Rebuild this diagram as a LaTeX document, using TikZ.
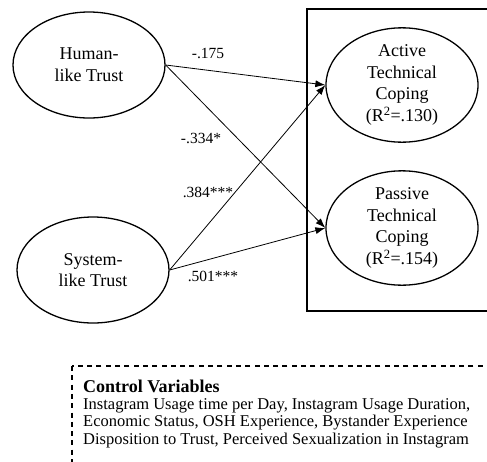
\documentclass[tikz,border=0pt]{standalone}
\usepackage{fontspec}
\setmainfont{Liberation Serif}
\usetikzlibrary{arrows.meta,shapes.geometric}
\begin{document}
\begin{tikzpicture}[x=1pt,y=-1pt,
  latent/.style={draw, ellipse, line width=1.3pt, minimum width=152pt,
    minimum height=106pt, inner sep=0pt, align=center,
    font=\fontsize{18}{21.7}\selectfont},
  pathedge/.style={-{Latex[length=10pt,width=7pt]}, line width=0.8pt},
  coef/.style={font=\fontsize{15.5}{18}\selectfont, inner sep=0pt},
  frame/.style={draw, line width=1.3pt}]
\useasboundingbox (0,0) rectangle (487,461);
\clip (0,0) rectangle (487,461);

% outcome frame and control-variable box
\draw[frame] (307,9) rectangle (520,311);
\draw[frame, dash pattern=on 5pt off 4.3pt] (72,366) rectangle (520,500);

% latent constructs
\node[latent] (hlt) at (89,65) {Human-\\like Trust};
\node[latent] (slt) at (93,270) {System-\\like Trust};
\node[latent] (atc) at (402,85) {Active\\Technical\\Coping\\(R\textsuperscript{2}=.130)};
\node[latent] (ptc) at (402,228) {Passive\\Technical\\Coping\\(R\textsuperscript{2}=.154)};

% structural paths
\draw[pathedge] (hlt.east) -- (atc.west);
\draw[pathedge] (hlt.east) -- (ptc.west);
\draw[pathedge] (slt.east) -- (atc.west);
\draw[pathedge] (slt.east) -- (ptc.west);

% path coefficients
\node[coef] (c1) at (208,53) {-.175};
\node[coef] (c2) at (201,138) {-.334*};
\node[coef] (c3) at (208,192) {.384***};
\node[coef] (c4) at (213,276) {.501***};

% control variables (anchored at the baseline of the last line)
\node[anchor=base west, align=left, inner sep=0pt,
  font=\fontsize{16.5}{17.3}\selectfont] (ctrl) at (83,444)
  {{\fontsize{18}{17.3}\selectfont\bfseries Control Variables}\\
   Instagram Usage time per Day, Instagram Usage Duration,\\
   Economic Status, OSH Experience, Bystander Experience\\
   Disposition to Trust, Perceived Sexualization in Instagram};
\end{tikzpicture}
\end{document}
